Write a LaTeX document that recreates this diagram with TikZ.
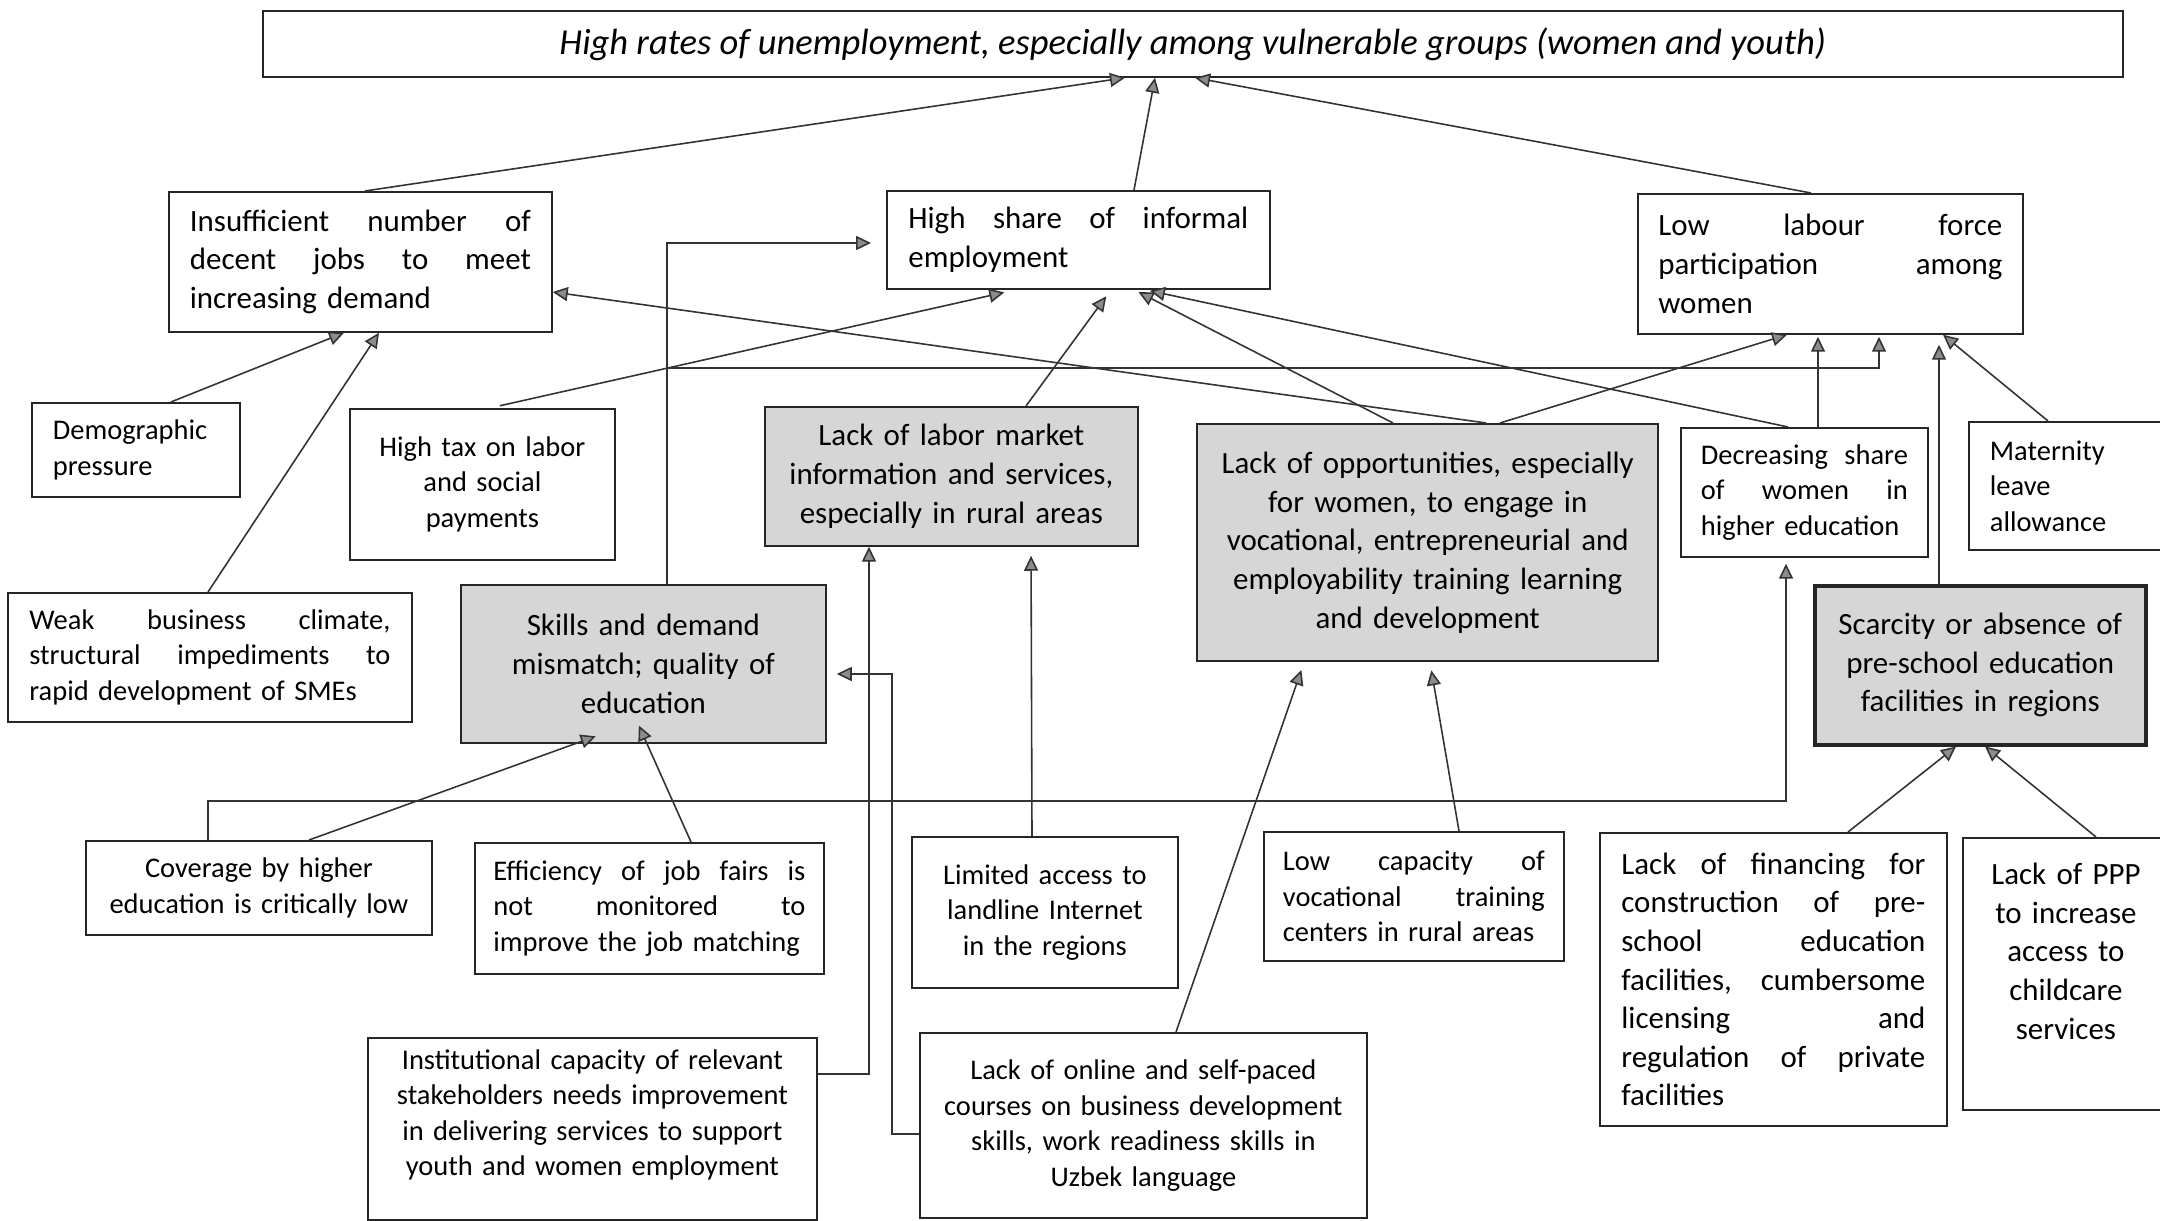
\documentclass[tikz,border=0pt]{standalone}
\usepackage{fontspec}
\setmainfont{Carlito}
\usetikzlibrary{arrows.meta}

% justified line and the two text sizes of the boxes
\newcommand{\jl}[1]{\makebox[\hsize][s]{\spaceskip=0.25em plus 1fil\relax #1}}
\newcommand{\bigtext}{\fontsize{8.8}{11}\selectfont}
\newcommand{\smalltext}{\fontsize{8.1}{10.1}\selectfont}

\begin{document}
\begin{tikzpicture}[x=0.1mm, y=-0.1mm,
  box/.style={draw=black!85, line width=0.5pt, anchor=north west, inner sep=0pt, font=\smalltext, align=center},
  shaded/.style={box, fill=black!16, font=\bigtext},
  arr/.style={draw=black!80, line width=0.45pt, -{Triangle[length=1.5mm, width=1.4mm, fill=black!45]}}
]
  \useasboundingbox (0,0) rectangle (2160,1221);

  % Core problem
  \node[box, font=\fontsize{10.4}{12}\selectfont\itshape, minimum width=18.6cm, minimum height=0.66cm]
    (prob) at (262,10) {High rates of unemployment, especially among vulnerable groups (women and youth)};

  % Direct causes
  \node[box, font=\bigtext, align=left, text width=3.41cm, minimum width=3.83cm, minimum height=1.40cm]
    (jobs) at (168,191) {\jl{Insufficient number of}\\\jl{decent jobs to meet}\\increasing demand};
  \node[box, font=\bigtext, align=left, text width=3.40cm, minimum width=3.83cm, minimum height=0.98cm]
    (informal) at (886,190) {\jl{High share of informal}\\employment};
  \node[box, font=\bigtext, align=left, text width=3.44cm, minimum width=3.85cm, minimum height=1.40cm]
    (lfp) at (1637,193) {\jl{Low labour force}\\\jl{participation among}\\women};

  % Second row
  \node[box, align=left, text width=1.66cm, minimum width=2.08cm, minimum height=0.94cm]
    (demo) at (31,402) {Demographic\\pressure};
  \node[box, text width=2.4cm, minimum width=2.65cm, minimum height=1.51cm]
    (tax) at (349,408) {High tax on labor\\and social\\payments};
  \node[shaded, text width=3.6cm, minimum width=3.73cm, minimum height=1.39cm]
    (lmi) at (764,406) {Lack of labor market\\information and services,\\especially in rural areas};
  \node[shaded, line width=0.7pt, text width=4.4cm, minimum width=4.61cm, minimum height=2.37cm]
    (opp) at (1196,423) {Lack of opportunities, especially\\for women, to engage in\\vocational, entrepreneurial and\\employability training learning\\and development};
  \node[box, align=left, text width=2.07cm, minimum width=2.47cm, minimum height=1.29cm]
    (decr) at (1680,427) {\jl{Decreasing share}\\\jl{of women in}\\higher education};
  \node[box, align=left, text width=1.6cm, minimum width=2.02cm, minimum height=1.28cm]
    (mat) at (1968,421) {Maternity\\leave\\allowance};

  % Third row
  \node[box, align=left, text width=3.61cm, minimum width=4.04cm, minimum height=1.29cm]
    (weak) at (7,592) {\jl{Weak business climate,}\\\jl{structural impediments to}\\rapid development of SMEs};
  \node[shaded, text width=3.4cm, minimum width=3.65cm, minimum height=1.58cm]
    (skills) at (460,584) {Skills and demand\\mismatch; quality of\\education};
  \node[shaded, line width=1pt, text width=3.1cm, minimum width=3.31cm, minimum height=1.59cm]
    (presch) at (1813,584) {Scarcity or absence of\\pre-school education\\facilities in regions};

  % Root causes
  \node[box, text width=3.2cm, minimum width=3.46cm, minimum height=0.94cm]
    (cover) at (85,840) {Coverage by higher\\education is critically low};
  \node[box, align=left, text width=3.12cm, minimum width=3.49cm, minimum height=1.31cm]
    (fairs) at (474,842) {\jl{Efficiency of job fairs is}\\\jl{not monitored to}\\improve the job matching};
  \node[box, text width=2.4cm, minimum width=2.66cm, minimum height=1.51cm]
    (inet) at (911,836) {Limited access to\\landline Internet\\in the regions};
  \node[box, align=left, text width=2.62cm, minimum width=3.00cm, minimum height=1.29cm]
    (lowcap) at (1263,831) {\jl{Low capacity of}\\\jl{vocational training}\\centers in rural areas};
  \node[box, font=\bigtext, align=left, text width=3.04cm, minimum width=3.47cm, minimum height=2.93cm]
    (fin) at (1599,832) {\jl{Lack of financing for}\\\jl{construction of pre-}\\\jl{school education}\\\jl{facilities, cumbersome}\\\jl{licensing and}\\\jl{regulation of private}\\facilities};
  \node[box, font=\bigtext, text width=1.9cm, text depth=2.0cm, minimum width=2.06cm, minimum height=2.72cm]
    (ppp) at (1962,837) {Lack of PPP\\to increase\\access to\\childcare\\services};
  \node[box, text width=4.3cm, text depth=1.39cm, minimum width=4.49cm, minimum height=1.82cm]
    (inst) at (367,1037) {Institutional capacity of relevant\\stakeholders needs improvement\\in delivering services to support\\youth and women employment};
  \node[box, text width=4.3cm, minimum width=4.47cm, minimum height=1.85cm]
    (online) at (919,1032) {Lack of online and self-paced\\courses on business development\\skills, work readiness skills in\\Uzbek language};

  % Links to the core problem
  \draw[arr] (jobs.north -| 365,0) -- (prob.south -| 1125,0);
  \draw[arr] (informal.north -| 1134,0) -- (prob.south -| 1155,0);
  \draw[arr] (lfp.north -| 1811,0) -- (prob.south -| 1195,0);

  % Into the insufficient jobs box
  \draw[arr] (demo.north -| 171,0) -- (jobs.south -| 344,0);
  \draw[arr] (weak.north -| 208,0) -- (jobs.south -| 379,0);
  \draw[arr] (opp.north -| 1486,0) -- (jobs.east |- 0,292);

  % Into the informal employment box
  \draw[arr, shorten <=1mm, shorten >=1.2mm] (tax.north -| 490,0) -- (informal.south -| 1016,0);
  \draw[arr, shorten >=0.8mm] (lmi.north -| 1026,0) -- (informal.south -| 1111,0);
  \draw[arr, shorten >=0.5mm] (opp.north -| 1393,0) -- (informal.south -| 1134,0);
  \draw[arr, shorten >=0.5mm] (decr.north -| 1788,0) -- (informal.south -| 1145,0);
  \draw[arr, shorten >=1.5mm] (skills.north -| 667,0) |- (informal.west |- 0,243);

  % Into the labour force participation box
  \coordinate (split) at (667,368);
  \draw[arr, shorten >=0.2mm] (split) -| (lfp.south -| 1879,0);
  \draw[arr] (opp.north -| 1500,0) -- (lfp.south -| 1787,0);
  \draw[arr, shorten >=0.2mm] (decr.north -| 1818,0) -- (lfp.south -| 1818,0);
  \draw[arr, shorten >=1mm] (presch.north -| 1939,0) -- (lfp.south -| 1939,0);
  \draw[arr] (mat.north -| 2048,0) -- (lfp.south -| 1943,0);

  % Second level links
  \draw[arr, shorten >=-2.2mm] (cover.north -| 309,0) -- (skills.south -| 575,0);
  \draw[arr, shorten >=-2mm] (fairs.north -| 691,0) -- (skills.south -| 647,0);
  \draw[arr, shorten >=0.6mm] (cover.north -| 208,0) -- ++(0,-39) -| (decr.south -| 1786,0);
  \draw[arr] (inst.east |- 0,1074) -| (lmi.south -| 869,0);
  \draw[arr, shorten >=1mm] (online.west |- 0,1134) -- ++(-27,0) |- (skills.east |- 0,674);
  \draw[arr, shorten >=0.9mm] (inet.north -| 1032,0) -- (lmi.south -| 1031,0);
  \draw[arr, shorten >=0.8mm] (online.north -| 1176,0) -- (opp.south -| 1304,0);
  \draw[arr, shorten >=0.8mm] (lowcap.north -| 1459,0) -- (opp.south -| 1430,0);
  \draw[arr] (fin.north -| 1848,0) -- (presch.south -| 1956,0);
  \draw[arr] (ppp.north -| 2096,0) -- (presch.south -| 1985,0);

\end{tikzpicture}
\end{document}
